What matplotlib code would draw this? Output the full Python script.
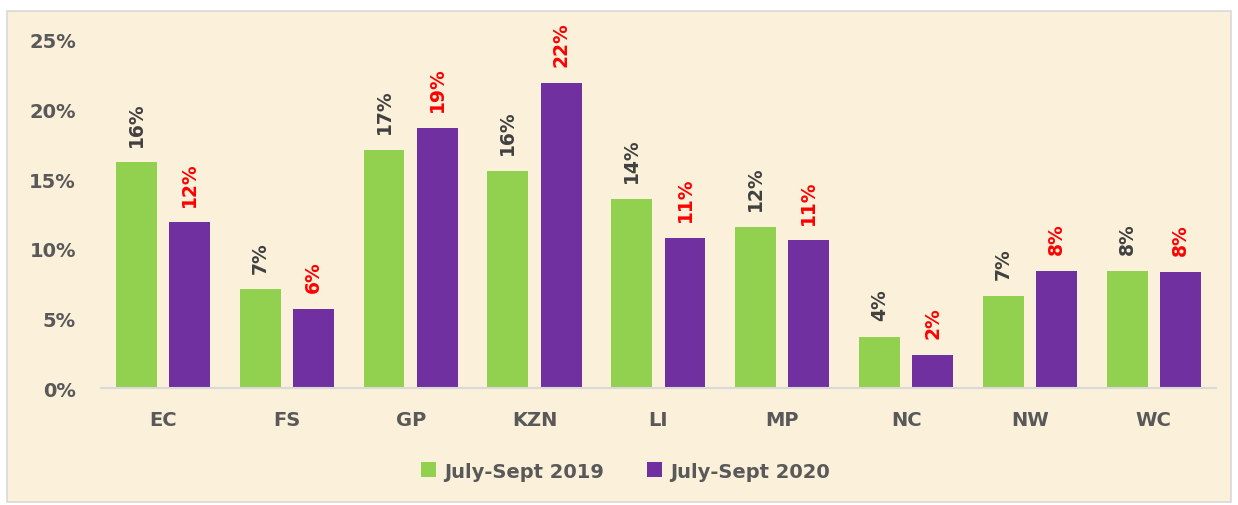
import numpy as np
import matplotlib.pyplot as plt
from matplotlib.patches import Rectangle

provinces = ['EC', 'FS', 'GP', 'KZN', 'LI', 'MP', 'NC', 'NW', 'WC']
q2019 = [16.2, 7.1, 17.1, 15.6, 13.6, 11.6, 3.7, 6.6, 8.4]
q2020 = [11.9, 5.7, 18.7, 21.9, 10.8, 10.6, 2.4, 8.4, 8.35]
series_names = ['July-Sept 2019', 'July-Sept 2020']

green = '#92D050'
purple = '#7030A0'
grey = '#595959'
bg = '#FBF0DA'

fig = plt.figure(figsize=(12.38, 5.06), dpi=100)
fig.patches.append(Rectangle((0.0057, 0.006), 0.9886, 0.970, transform=fig.transFigure,
                             facecolor=bg, edgecolor='#D9D9D9', lw=1.2, zorder=-10))
ax = fig.add_axes([0.0816, 0.2312, 0.9004, 0.6878])
ax.set_facecolor('none')

x = np.arange(len(provinces))
w = 0.33
off = 0.215
b1 = ax.bar(x - off, q2019, w, color=green, label=series_names[0])
b2 = ax.bar(x + off, q2020, w, color=purple, label=series_names[1])

for bars, vals, col in [(b1, q2019, '#404040'), (b2, q2020, 'red')]:
    for rect, v in zip(bars, vals):
        ax.annotate(f'{v:.0f}%', (rect.get_x() + rect.get_width() / 2, v), xytext=(0, 12),
                    textcoords='offset points', rotation=90, ha='center', va='bottom',
                    fontsize=13.5, fontweight='bold', color=col, annotation_clip=False)

ax.set_xlim(-0.5, len(provinces) - 0.5)
ax.set_ylim(0, 25)
ax.set_yticks(np.arange(0, 26, 5))
ax.set_yticklabels([f'{t}%' for t in range(0, 26, 5)])
ax.set_xticks(x)
ax.set_xticklabels(provinces)
for lab in ax.get_xticklabels() + ax.get_yticklabels():
    lab.set_fontweight('bold')
    lab.set_color(grey)
    lab.set_fontsize(14)
ax.tick_params(axis='both', length=0)
ax.tick_params(axis='x', pad=16)
ax.tick_params(axis='y', pad=18)
for s in ['top', 'right', 'left']:
    ax.spines[s].set_visible(False)
ax.spines['bottom'].set_color('#D9D9D9')
ax.spines['bottom'].set_linewidth(1.5)

leg = fig.legend(loc='center', bbox_to_anchor=(0.505, 0.067), ncol=2, frameon=False,
                 handlelength=0.8, handleheight=0.8, handletextpad=0.4, columnspacing=2.2,
                 prop={'weight': 'bold', 'size': 14})
for t in leg.get_texts():
    t.set_color(grey)

fig.savefig('out.png', dpi=100)
